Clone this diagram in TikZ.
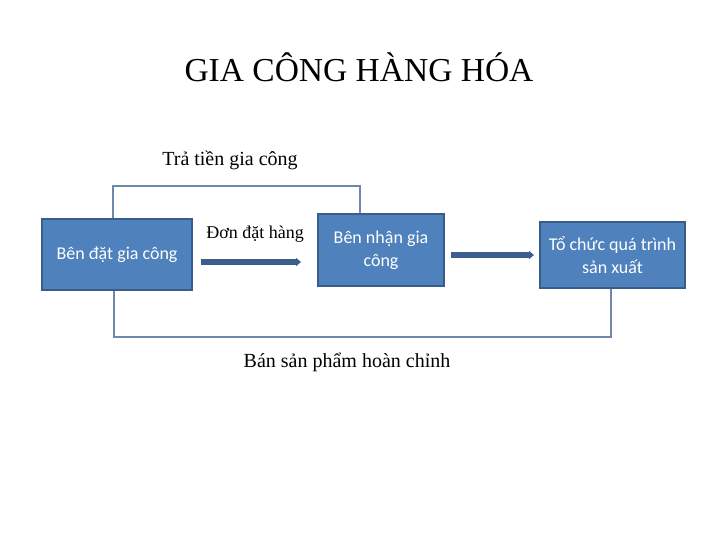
\documentclass[tikz,border=0pt]{standalone}
\usepackage{fontspec}
\setmainfont{Liberation Serif}
\newfontfamily\boxfont{Carlito}
\usetikzlibrary{arrows.meta}
\definecolor{boxfill}{HTML}{4F81BD}
\definecolor{boxdraw}{HTML}{385D8A}
\definecolor{linec}{HTML}{6D88A8}
\definecolor{arrowc}{HTML}{3B5E8C}
\tikzset{
  bluebox/.style={draw=boxdraw, line width=2.5pt, fill=boxfill, text=white, font=\boxfont\fontsize{18}{23}\selectfont, align=center, inner sep=0pt},
  flowline/.style={draw=linec, line width=1.2pt},
  thickarrow/.style={draw=arrowc, line width=5.5pt, -{Triangle[length=5pt,width=8pt]}},
  lbl/.style={font=\fontsize{20}{24}\selectfont, inner sep=0pt}
}
\begin{document}
\begin{tikzpicture}[x=1pt,y=-1pt]
\useasboundingbox (0,0) rectangle (720,540);
\node[font=\fontsize{33.5}{40}\selectfont, inner sep=0pt] (title) at (359,67) {GIA CÔNG HÀNG HÓA};
% boxes
\node[bluebox, minimum width=150pt, minimum height=71pt] (b1) at (117,254.5) {Bên đặt gia công};
\node[bluebox, minimum width=126pt, minimum height=72pt] (b2) at (381,250) {Bên nhận gia\\công};
\node[bluebox, minimum width=145pt, minimum height=66pt] (b3) at (612.5,255) {Tổ chức quá trình\\sản xuất};
% connectors
\coordinate (t1) at (113,186);
\coordinate (t2) at (360,186);
\coordinate (u1) at (114,337);
\coordinate (u2) at (611,337);
\draw[flowline] (b1.north -| t1) -- (t1) -- (t2) -- (t2 |- b2.north);
\draw[flowline] (b1.south -| u1) -- (u1) -- (u2) -- (u2 |- b3.south);
\coordinate (a1s) at (201,262);
\coordinate (a1e) at (301,262);
\coordinate (a2s) at (451,255);
\coordinate (a2e) at (534,255);
\draw[thickarrow] (a1s) -- (a1e);
\draw[thickarrow] (a2s) -- (a2e);
% labels
\node[lbl] (l1) at (230,160) {Trả tiền gia công};
\node[font=\fontsize{18}{22}\selectfont, inner sep=0pt] (l2) at (255,234) {Đơn đặt hàng};
\node[lbl] (l3) at (347,362) {Bán sản phẩm hoàn chỉnh};
\end{tikzpicture}
\end{document}
